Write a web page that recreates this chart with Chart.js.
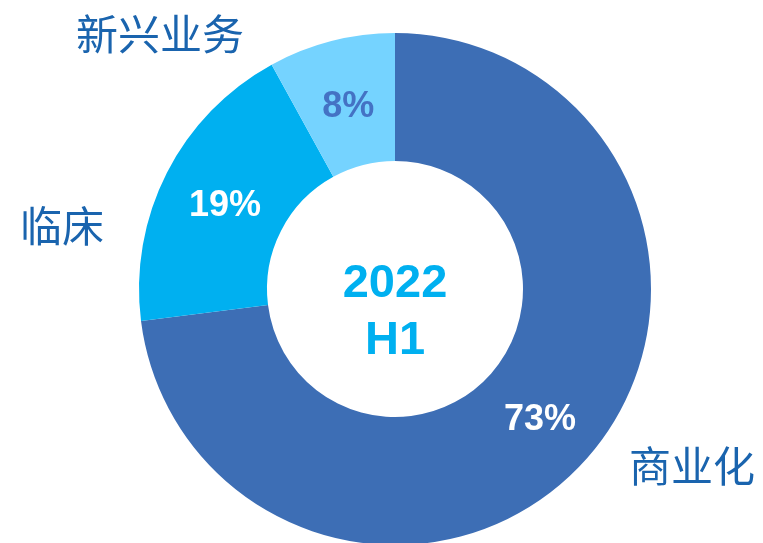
<!DOCTYPE html>
<html>
<head>
<meta charset="utf-8">
<script src="https://cdn.jsdelivr.net/npm/chart.js@4/dist/chart.umd.min.js"></script>
<style>
  html, body { margin: 0; padding: 0; background: #ffffff; overflow: hidden; }
  #wrap { position: relative; width: 763px; height: 545px; }
</style>
</head>
<body>
<div id="wrap"><canvas id="c" width="763" height="545"></canvas></div>
<script>
// Business segments and their share of revenue (2022 H1)
const categories = ['商业化', '临床', '新兴业务'];
const shares = [73, 19, 8];
const centerTitle = ['2022', 'H1'];

const segmentColors = ['#3D6EB5', '#00B0F0', '#75D3FF'];
const valueTextColors = ['#FFFFFF', '#FFFFFF', '#4472C4'];
// Where each category name sits on the page
const namePositions = [[692, 466], [62, 226], [160, 34]];

const sliceLabels = {
  id: 'sliceLabels',
  afterDatasetsDraw(chart) {
    const ctx = chart.ctx;
    const meta = chart.getDatasetMeta(0);
    ctx.save();
    ctx.textAlign = 'center';
    ctx.textBaseline = 'middle';
    // percentage on each ring segment
    ctx.font = 'bold 36px "Liberation Sans", Arial, sans-serif';
    meta.data.forEach((arc, i) => {
      const p = arc.tooltipPosition();
      ctx.fillStyle = valueTextColors[i];
      ctx.fillText(chart.data.datasets[0].data[i] + '%', p.x + 1, p.y + 4);
    });
    // category names outside the ring
    ctx.font = '42px "Noto Sans CJK SC", sans-serif';
    ctx.fillStyle = '#1A64AE';
    chart.data.labels.forEach((name, i) => {
      const pos = namePositions[i];
      ctx.fillText(name, pos[0], pos[1]);
    });
    // period in the hole
    const c = meta.data[0];
    ctx.font = 'bold 47px "Liberation Sans", Arial, sans-serif';
    ctx.fillStyle = '#00B0F0';
    ctx.fillText(centerTitle[0], c.x, c.y - 5);
    ctx.fillText(centerTitle[1], c.x, c.y + 52);
    ctx.restore();
  }
};

new Chart(document.getElementById('c'), {
  type: 'doughnut',
  data: {
    labels: categories,
    datasets: [{
      data: shares,
      backgroundColor: segmentColors,
      borderWidth: 0,
      hoverOffset: 0
    }]
  },
  options: {
    responsive: false,
    animation: false,
    cutout: '50%',
    rotation: 0,
    layout: { padding: { left: 139, right: 112, top: 33, bottom: 0 } },
    plugins: {
      legend: { display: false },
      tooltip: { enabled: false }
    }
  },
  plugins: [sliceLabels]
});
</script>
</body>
</html>
